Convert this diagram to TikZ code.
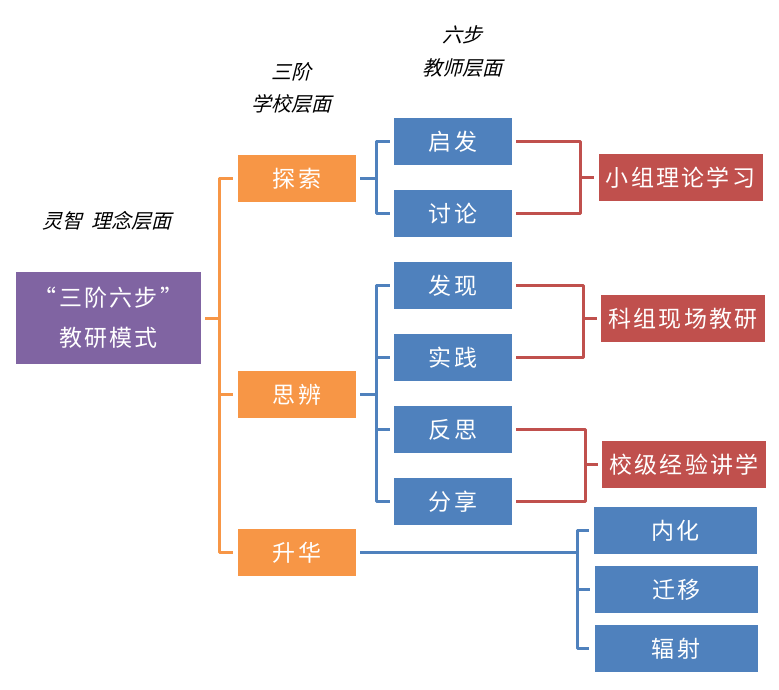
\documentclass[tikz,border=0pt]{standalone}
\usepackage{fontspec}
\setmainfont{Noto Sans CJK SC}
\newfontfamily\cjkit[FakeSlant=0.25]{Noto Sans CJK SC}
\newfontfamily\cjkbox[LetterSpace=10]{Noto Sans CJK SC}
\definecolor{cpurple}{HTML}{8064A2}
\definecolor{corange}{HTML}{F79646}
\definecolor{cblue}{HTML}{4F81BD}
\definecolor{cred}{HTML}{C0504D}
\begin{document}
\begin{tikzpicture}[x=1pt,y=-1pt,
  box/.style={rectangle,inner sep=0pt,text=white,font=\cjkbox\fontsize{23}{40}\selectfont,align=center},
  pbox/.style={box,fill=cpurple,minimum width=185pt,minimum height=92pt},
  obox/.style={box,fill=corange,minimum width=118pt,minimum height=47pt},
  bbox/.style={box,fill=cblue,minimum width=118pt,minimum height=47pt},
  wbox/.style={box,fill=cblue,minimum width=163pt,minimum height=47pt},
  rbox/.style={box,fill=cred,minimum width=164pt,minimum height=47pt},
  lbl/.style={inner sep=0pt,font=\cjkit\fontsize{20}{24}\selectfont},
  oline/.style={draw=corange,line width=3pt,line join=round},
  bline/.style={draw=cblue,line width=3pt,line join=round},
  rline/.style={draw=cred,line width=3pt,line join=round}]
\useasboundingbox (0,0) rectangle (779,690);
% labels
\node[lbl] (l1) at (462,35) {六步};
\node[lbl] (l2) at (462,68) {教师层面};
\node[lbl] (l3) at (291,72) {三阶};
\node[lbl] (l4) at (291,104) {学校层面};
\node[lbl] (l5) at (107,221) {灵智\ \ 理念层面};
% boxes
\node[pbox] (p) at (108.5,318) {“三阶六步”\\教研模式};
\node[obox] (o1) at (297,178.5) {探索};
\node[obox] (o2) at (297,394.5) {思辨};
\node[obox] (o3) at (297,552.5) {升华};
\node[bbox] (b1) at (453,141.5) {启发};
\node[bbox] (b2) at (453,213.5) {讨论};
\node[bbox] (b3) at (453,285.5) {发现};
\node[bbox] (b4) at (453,357.5) {实践};
\node[bbox] (b5) at (453,429.5) {反思};
\node[bbox] (b6) at (453,501.5) {分享};
\node[rbox] (r1) at (680.5,177.5) {小组理论学习};
\node[rbox] (r2) at (683,318.5) {科组现场教研};
\node[rbox] (r3) at (684,464.5) {校级经验讲学};
\node[wbox] (c1) at (675.5,530.5) {内化};
\node[wbox] (c2) at (676.5,589.5) {迁移};
\node[wbox] (c3) at (676,648.5) {辐射};
% junctions
\coordinate (oj) at (219,318);
\coordinate (bj1) at (376,178.5);
\coordinate (bj2) at (376,394.5);
\coordinate (rj1) at (580,177.5);
\coordinate (rj2) at (583,318.5);
\coordinate (rj3) at (585,464.5);
\coordinate (cj) at (577,552.5);
% orange bracket
\draw[oline] ([xshift=4pt]p.east) -- (oj);
\draw[oline] ([xshift=-5pt]o1.west) -- (o1.west -| oj) -- (o3.west -| oj) -- ([xshift=-5pt]o3.west);
\draw[oline] (o2.west -| oj) -- ([xshift=-5pt]o2.west);
% blue brackets
\draw[bline] ([xshift=4pt]o1.east) -- (bj1);
\draw[bline] ([xshift=-4pt]b1.west) -- (b1.west -| bj1) -- (b2.west -| bj1) -- ([xshift=-4pt]b2.west);
\draw[bline] ([xshift=4pt]o2.east) -- (bj2);
\draw[bline] ([xshift=-4pt]b3.west) -- (b3.west -| bj2) -- (b6.west -| bj2) -- ([xshift=-4pt]b6.west);
\draw[bline] (b4.west -| bj2) -- ([xshift=-4pt]b4.west);
\draw[bline] (b5.west -| bj2) -- ([xshift=-4pt]b5.west);
% red brackets
\draw[rline] ([xshift=4pt]b1.east) -- (b1.east -| rj1) -- (b2.east -| rj1) -- ([xshift=4pt]b2.east);
\draw[rline] (rj1) -- ([xshift=-4pt]r1.west);
\draw[rline] ([xshift=4pt]b3.east) -- (b3.east -| rj2) -- (b4.east -| rj2) -- ([xshift=4pt]b4.east);
\draw[rline] (rj2) -- ([xshift=-4pt]r2.west);
\draw[rline] ([xshift=4pt]b5.east) -- (b5.east -| rj3) -- (b6.east -| rj3) -- ([xshift=4pt]b6.east);
\draw[rline] (rj3) -- ([xshift=-4pt]r3.west);
% sublimation bracket
\draw[bline] ([xshift=4pt]o3.east) -- (cj);
\draw[bline] ([xshift=-5pt]c1.west) -- (c1.west -| cj) -- (c3.west -| cj) -- ([xshift=-5pt]c3.west);
\draw[bline] (c2.west -| cj) -- ([xshift=-5pt]c2.west);
\end{tikzpicture}
\end{document}
